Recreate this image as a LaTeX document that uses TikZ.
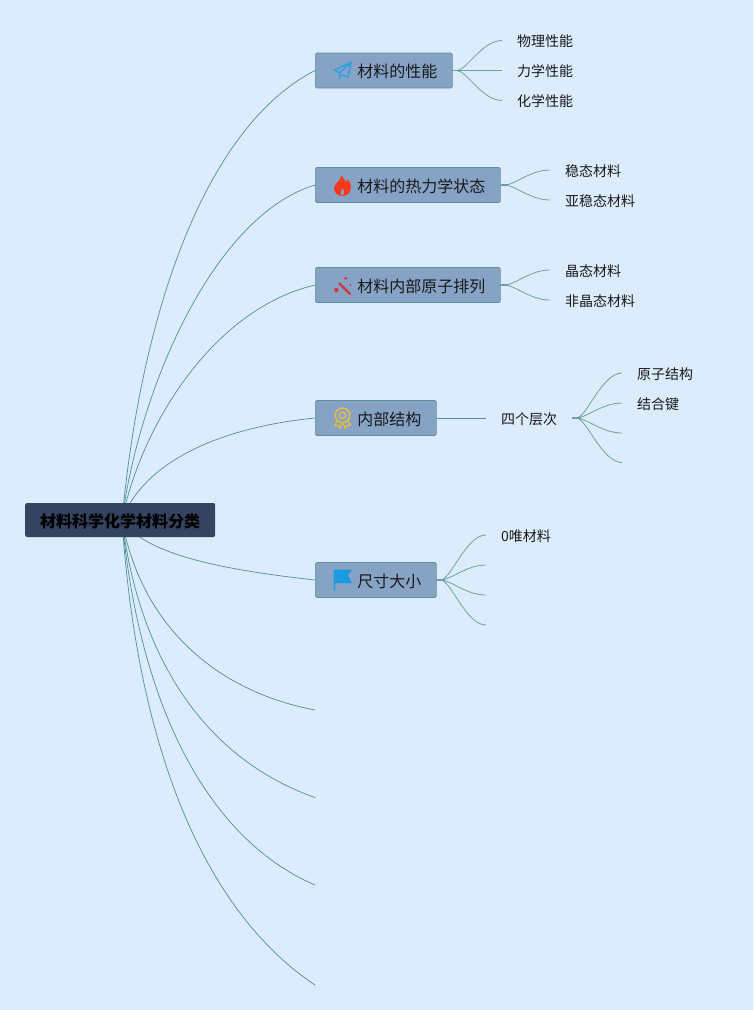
\documentclass[tikz,border=0pt]{standalone}
\usepackage{fontspec}
\setmainfont{Noto Sans CJK SC}
\pgfdeclarelayer{bgfill}
\pgfdeclarelayer{edges}
\pgfsetlayers{bgfill,edges,main}
\definecolor{pagebg}{HTML}{DCECFD}
\definecolor{rootfill}{HTML}{34435F}
\definecolor{boxfill}{HTML}{86A3C6}
\definecolor{boxline}{HTML}{5B9296}
\definecolor{mainedge}{HTML}{4F8F90}
\definecolor{subedge}{HTML}{6FA0A4}
\definecolor{planeblue}{HTML}{2E9FE0}
\definecolor{flamered}{HTML}{F5391C}
\definecolor{wandred}{HTML}{D0393A}
\definecolor{ribbon}{HTML}{EDBE3C}
\definecolor{flagblue}{HTML}{1A9BE0}
\tikzset{
  x=1pt,y=-1pt,
  rootbox/.style={fill=rootfill,rounded corners=2pt,inner xsep=0pt,inner ysep=0pt,minimum height=34pt,anchor=west,text=black,text height=16pt,text depth=1.8pt,font=\fontsize{16}{16}\selectfont\bfseries},
  branch/.style={fill=boxfill,draw=boxline,line width=0.7pt,rounded corners=1.5pt,inner xsep=0pt,inner ysep=0pt,minimum height=35pt,anchor=west,text=black!90,text height=16pt,text depth=1.8pt,font=\fontsize{16}{16}\selectfont},
  leaf/.style={inner xsep=15pt,inner ysep=0pt,anchor=west,text=black!90,text height=14pt,text depth=1.4pt,font=\fontsize{14}{14}\selectfont},
  mainlink/.style={draw=mainedge,line width=0.7pt},
  sublink/.style={draw=subedge,line width=0.8pt},
  stub/.style={draw=subedge,line width=1.5pt},
}
\newcommand{\spray}[2]{%
  \draw[stub] (#1) -- ++(7,0);
  \draw[sublink] (#1) -- ++(4,0) .. controls +(10,0) and +(-20,0) .. (#2);}
\newcommand{\btext}[1]{\rule{42pt}{0pt}#1\rule{15pt}{0pt}}
\begin{document}
\begin{tikzpicture}
\begin{pgfonlayer}{bgfill}
  \fill[pagebg] (0,0) rectangle (753,1010);
\end{pgfonlayer}
\useasboundingbox (0,0) rectangle (753,1010);

% nodes
\node[rootbox] (root) at (25,520) {\rule{15pt}{0pt}材料科学化学材料分类\rule{15pt}{0pt}};
\coordinate (hub) at (122,520);
\node[branch] (b1) at (315,70.5) {\btext{材料的性能}};
\node[branch] (b2) at (315,185) {\btext{材料的热力学状态}};
\node[branch] (b3) at (315,285) {\btext{材料内部原子排列}};
\node[branch] (b4) at (315,418) {\btext{内部结构}};
\node[branch] (b5) at (315,580) {\btext{尺寸大小}};

\node[leaf] (l11) at (502,40.5) {物理性能};
\node[leaf] (l12) at (502,70.5) {力学性能};
\node[leaf] (l13) at (502,100.5) {化学性能};
\node[leaf] (l21) at (550,170) {稳态材料};
\node[leaf] (l22) at (550,200) {亚稳态材料};
\node[leaf] (l31) at (550,270) {晶态材料};
\node[leaf] (l32) at (550,300) {非晶态材料};
\node[leaf] (l41) at (486,418) {四个层次};
\node[leaf] (l411) at (622,373) {原子结构};
\node[leaf] (l412) at (622,403) {结合键};
\node[leaf] (l51) at (486,535) {0唯材料};

\coordinate (e1) at (315,710);
\coordinate (e2) at (315,797.5);
\coordinate (e3) at (315,885);
\coordinate (e4) at (315,985);
\coordinate (q1) at (622,433);
\coordinate (q2) at (622,462.5);
\coordinate (r1) at (486,565);
\coordinate (r2) at (486,595);
\coordinate (r3) at (486,625);

% connectors
\begin{pgfonlayer}{edges}
  \draw[mainlink] (hub) .. controls +(20,-215) and +(-107,55) .. (b1.west);
  \draw[mainlink] (hub) .. controls +(18,-135) and +(-100,30) .. (b2.west);
  \draw[mainlink] (hub) .. controls +(18,-90) and +(-105,25) .. (b3.west);
  \draw[mainlink] (hub) .. controls +(18,-50) and +(-110,11) .. (b4.west);
  \draw[mainlink] (hub) .. controls +(23,35) and +(-90,-10) .. (b5.west);
  \draw[mainlink] (hub) .. controls +(18,100) and +(-105,-20) .. (e1);
  \draw[mainlink] (hub) .. controls +(18,145) and +(-105,-37) .. (e2);
  \draw[mainlink] (hub) .. controls +(18,190) and +(-105,-45) .. (e3);
  \draw[mainlink] (hub) .. controls +(16,240) and +(-105,-70) .. (e4);

  \spray{b1.east}{l11.west}
  \spray{b1.east}{l12.west}
  \spray{b1.east}{l13.west}
  \spray{b2.east}{l21.west}
  \spray{b2.east}{l22.west}
  \spray{b3.east}{l31.west}
  \spray{b3.east}{l32.west}
  \draw[mainlink] (b4.east) -- (l41.west);
  \spray{l41.east}{l411.west}
  \spray{l41.east}{l412.west}
  \spray{l41.east}{q1}
  \spray{l41.east}{q2}
  \spray{b5.east}{l51.west}
  \spray{b5.east}{r1}
  \spray{b5.east}{r2}
  \spray{b5.east}{r3}
\end{pgfonlayer}

% icons
% paper plane
\draw[planeblue,line width=1.4pt,line join=round]
  (351,62.5) -- (334.5,70) -- (339.5,73) -- (351,62.5) -- (348,77.5) -- (342.5,74.5) -- (339.5,78) -- (339.5,73);
% flame
\fill[flamered] (342,175) .. controls (343,179) and (345,180) .. (346.5,182)
  .. controls (347,181) and (347.5,180.5) .. (347.5,179.5)
  .. controls (350.5,182) and (351.5,185) .. (351,188)
  .. controls (350.5,193) and (346.5,196) .. (342.5,196)
  .. controls (337.5,196) and (334,192.5) .. (334,188)
  .. controls (334,184) and (340.5,181) .. (342,175) -- cycle;
\fill[boxfill] (342.5,195.8) .. controls (341,194) and (340.5,192.5) .. (341,191)
  .. controls (341.5,190) and (342.2,189.5) .. (342.5,188.5)
  .. controls (343.5,190) and (344.3,191) .. (344.2,192.5)
  .. controls (344,194) and (343.5,195) .. (342.5,195.8) -- cycle;
% wand
\draw[wandred,line width=2.4pt,line cap=round] (339.5,283.5) -- (350,294);
\fill[wandred] (345.7,278.3) circle (1.7);
\fill[wandred] (336.3,290) circle (2.2);
\fill[wandred] (350.3,285) circle (1);
% ribbon
\draw[ribbon,line width=1.4pt] (342.5,415.3) circle (7.3);
\draw[ribbon,line width=1.3pt] (342.5,415.3) circle (3.3);
\draw[ribbon,line width=1.3pt,line join=round] (337,421) -- (334.8,425.3) -- (338,425.6) -- (340,428.4) -- (341.8,423.5);
\draw[ribbon,line width=1.3pt,line join=round] (348,421) -- (350.2,425.3) -- (347,425.6) -- (345,428.4) -- (343.2,423.5);
% flag
\fill[flagblue] (333.5,569.5) -- (352,569.5) -- (348,575.5) -- (352,583) -- (335,583) -- (335,590.5) -- (333.5,590.5) -- cycle;
\end{tikzpicture}
\end{document}
